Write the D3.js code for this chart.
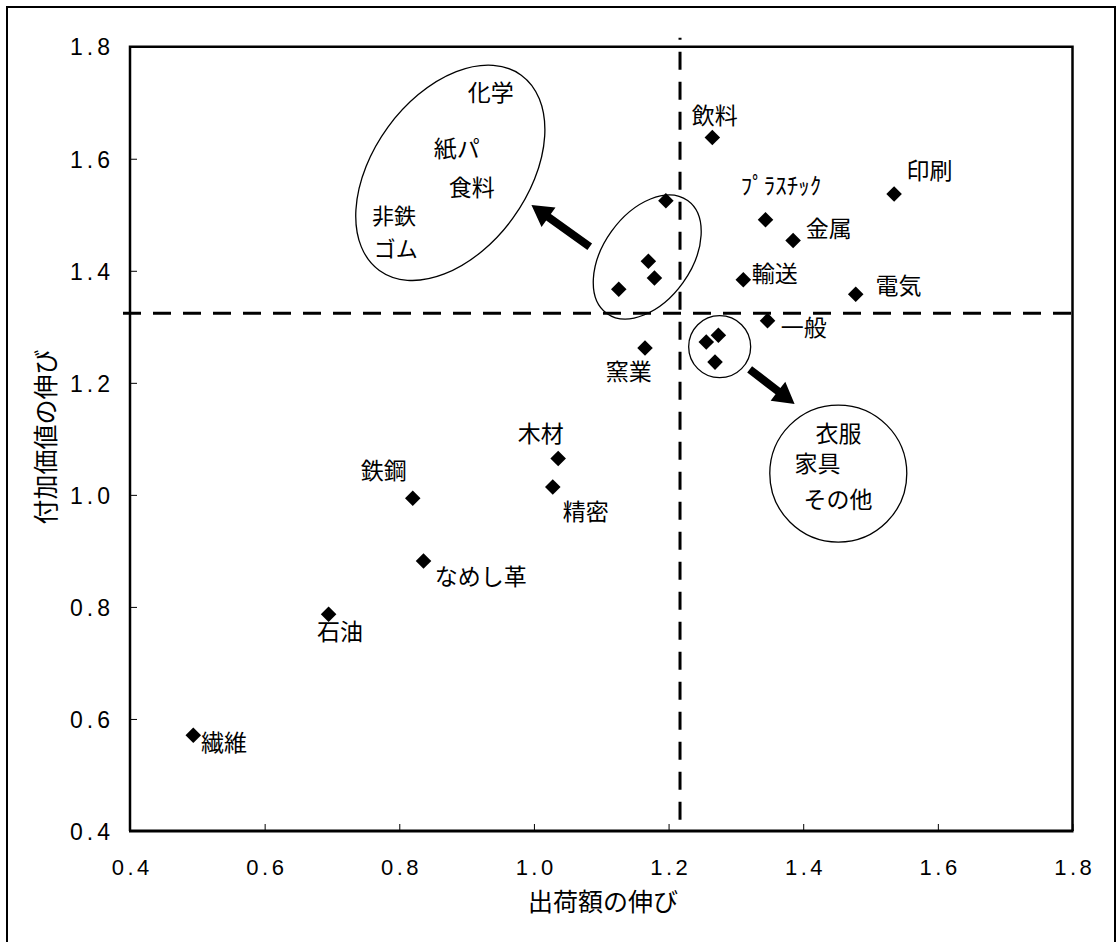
<!DOCTYPE html>
<html><head><meta charset="utf-8">
<script src="https://cdn.jsdelivr.net/npm/d3@7/dist/d3.min.js"></script>
<style>body{margin:0;background:#fff}</style>
</head><body>
<svg id="chart" width="1117" height="942"></svg>
<script>
// ---- data ----
const names   = ["繊維","石油","なめし革","鉄鋼","木材","精密","窯業",
                 "非鉄","ゴム","食料","化学",
                 "飲料","衣服","家具","その他","一般","電気","輸送","プラスチック","金属","印刷"];
const xValues = [0.494,0.695,0.836,0.820,1.036,1.028,1.165,
                 1.126,1.170,1.179,1.196,
                 1.265,1.256,1.274,1.269,1.347,1.478,1.311,1.344,1.385,1.535];
const yValues = [0.571,0.787,0.882,0.994,1.065,1.014,1.262,
                 1.367,1.417,1.387,1.525,
                 1.638,1.273,1.285,1.237,1.311,1.358,1.384,1.491,1.454,1.537];
const xTicks = [0.4,0.6,0.8,1.0,1.2,1.4,1.6,1.8];
const yTicks = [0.4,0.6,0.8,1.0,1.2,1.4,1.6,1.8];
const refX = 1.217;   // 出荷額の伸び 平均
const refY = 1.324;   // 付加価値の伸び 平均
const xTitle = "出荷額の伸び";
const yTitle = "付加価値の伸び";

// annotation labels (data coordinates)
const labelTexts = ["繊維","石油","なめし革","鉄鋼","木材","精密","窯業","飲料","一般","電気","印刷","金属","輸送","ﾌﾟﾗｽﾁｯｸ",
                    "化学","紙パ","食料","非鉄","ゴム","衣服","家具","その他"];
const labelX = [0.5054,0.6776,0.8528,0.7429,0.9760,1.0428,1.1067,1.2343,1.3665,1.5075,1.5535,1.4036,1.3234,1.3071,
                0.9018,0.8513,0.8736,0.7593,0.7622,1.4184,1.3872,1.4006];
const labelY = [0.5428,0.7409,0.8391,1.0283,1.0944,0.9551,1.2050,1.6620,1.2836,1.3585,1.5638,1.4603,1.3800,1.5370,
                1.7036,1.6031,1.5340,1.4835,1.4250,1.0944,1.0413,0.9765];

// group outlines: centre in data coords
const groupCx = [0.8758,1.1683,1.2759,1.4521];
const groupCy = [1.5749,1.4246,1.2645,1.0381];
// arrows: tail -> tip in data coords
const arrowFrom = [[1.0829,1.443],[1.3204,1.2241]];
const arrowTo   = [[0.9963,1.5174],[1.3872,1.1622]];

// ---- layout ----
const L = 130, R = 1072.5, T = 46.7, B = 831;
const groupRx = [120.7,69.4,31,68.5], groupRy = [77.3,44,31,68.5], groupRot = [-54,-54.4,0,0];

const svg = d3.select("#chart");
const x = d3.scaleLinear().domain([0.4,1.8]).range([L,R]);
const y = d3.scaleLinear().domain([0.4,1.8]).range([B,T]);

// outer frame
svg.append("rect").attr("x",7).attr("y",7).attr("width",1108).attr("height",960)
   .attr("fill","none").attr("stroke","#000").attr("stroke-width",2);

const fmt = d3.format(".1f");
const numFont = "'Liberation Sans', Arial, sans-serif";
const jpFont = "'Noto Sans CJK JP', sans-serif";

// axes
const xAxis = svg.append("g").attr("transform",`translate(0,${B})`)
  .call(d3.axisBottom(x).tickValues(xTicks).tickSize(-7).tickPadding(28).tickFormat(fmt));
xAxis.select(".domain").remove();
xAxis.selectAll("line").attr("stroke","#000").attr("stroke-width",1);
xAxis.selectAll("text").attr("font-family",numFont).attr("font-size",22)
  .attr("letter-spacing","3.5px").attr("dx","1.75px").attr("fill","#000");

const yAxis = svg.append("g").attr("transform",`translate(${L},0)`)
  .call(d3.axisLeft(y).tickValues(yTicks).tickSize(-7).tickPadding(16).tickFormat(fmt));
yAxis.select(".domain").remove();
yAxis.selectAll("line").attr("stroke","#000").attr("stroke-width",1);
yAxis.selectAll("text").attr("font-family",numFont).attr("font-size",23)
  .attr("letter-spacing","4px").attr("dy","0.36em").attr("fill","#000");

// plot border
svg.append("path").attr("d",`M${L},${B}V${T}H${R}V${B}`).attr("fill","none")
   .attr("stroke","#000").attr("stroke-width",2.5);
svg.append("line").attr("x1",L-1).attr("x2",R+1).attr("y1",B).attr("y2",B)
   .attr("stroke","#000").attr("stroke-width",3);

// reference lines
svg.append("line").attr("x1",x(refX)).attr("x2",x(refX)).attr("y1",T-9).attr("y2",B)
   .attr("stroke","#000").attr("stroke-width",3).attr("stroke-dasharray","18,12").attr("stroke-dashoffset",16);
svg.append("line").attr("x1",L-7).attr("x2",R+8).attr("y1",y(refY)).attr("y2",y(refY))
   .attr("stroke","#000").attr("stroke-width",3).attr("stroke-dasharray","18,12");

// titles
svg.append("text").attr("x",603).attr("y",911).attr("text-anchor","middle")
   .attr("font-family",jpFont).attr("font-size",25).text(xTitle);
svg.append("text").attr("transform","translate(55,437) rotate(-90)").attr("text-anchor","middle")
   .attr("font-family",jpFont).attr("font-size",25).text(yTitle);

// group outlines
svg.append("g").selectAll("ellipse").data(groupCx).join("ellipse")
  .attr("transform",(d,i)=>`translate(${x(d)},${y(groupCy[i])}) rotate(${groupRot[i]})`)
  .attr("rx",(d,i)=>groupRx[i]).attr("ry",(d,i)=>groupRy[i])
  .attr("fill","none").attr("stroke","#000").attr("stroke-width",1.3);

// arrows
function arrowPath(f,t){
  const x0=x(f[0]), y0=y(f[1]), x1=x(t[0]), y1=y(t[1]);
  const dx=x1-x0, dy=y1-y0, len=Math.hypot(dx,dy), ux=dx/len, uy=dy/len, nx=-uy, ny=ux;
  const hl=21, hw=12, sw=4;
  const bx=x1-ux*hl, by=y1-uy*hl;
  const p=[[x0+nx*sw,y0+ny*sw],[bx+nx*sw,by+ny*sw],[bx+nx*hw,by+ny*hw],[x1,y1],
           [bx-nx*hw,by-ny*hw],[bx-nx*sw,by-ny*sw],[x0-nx*sw,y0-ny*sw]];
  return "M"+p.map(q=>q.join(",")).join("L")+"Z";
}
svg.append("g").selectAll("path").data(arrowFrom).join("path")
  .attr("d",(d,i)=>arrowPath(d,arrowTo[i])).attr("fill","#000");

// points
const sym = d3.symbol().type(d3.symbolSquare).size(121);
svg.append("g").selectAll("path").data(names).join("path")
  .attr("d",sym)
  .attr("transform",(d,i)=>`translate(${x(xValues[i])},${y(yValues[i])}) rotate(45)`)
  .attr("fill","#000");

// labels
svg.append("g").selectAll("text").data(labelTexts).join("text")
  .attr("x",(d,i)=>x(labelX[i])).attr("y",(d,i)=>y(labelY[i]))
  .attr("font-family",jpFont).attr("font-size",(d)=>(d==="非鉄"||d==="ゴム")?22:23)
  .attr("fill","#000").text(d=>d);
</script>
</body></html>
